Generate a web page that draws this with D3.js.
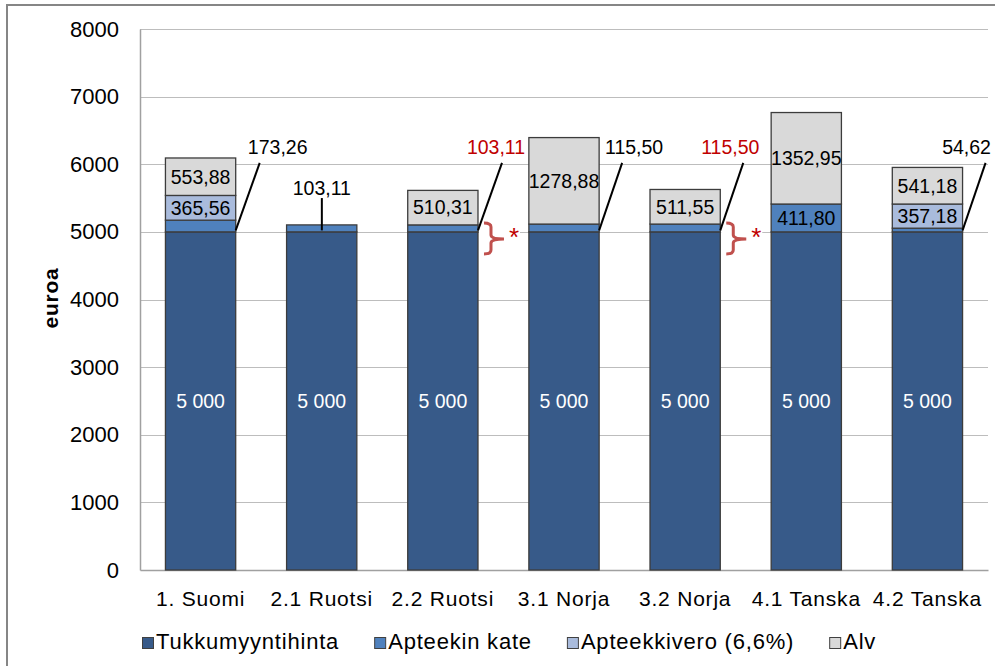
<!DOCTYPE html>
<html>
<head>
<meta charset="utf-8">
<script src="https://cdn.jsdelivr.net/npm/d3@7"></script>
<style>
  body{margin:0;background:#fff;}
  text{font-family:"Liberation Sans",Arial,sans-serif;}
</style>
</head>
<body>
<div id="chart"></div>
<script>

var categories       = ["1. Suomi","2.1 Ruotsi","2.2 Ruotsi","3.1 Norja","3.2 Norja","4.1 Tanska","4.2 Tanska"];
var tukkumyyntihinta = [5000,5000,5000,5000,5000,5000,5000];
var apteekinKate     = [173.26,103.11,103.11,115.50,115.50,411.80,54.62];
var apteekkivero     = [365.56,0,0,0,0,0,357.18];
var alv              = [553.88,0,510.31,1278.88,511.55,1352.95,541.18];
var seriesNames      = ["Tukkumyyntihinta","Apteekin kate","Apteekkivero (6,6%)","Alv"];
var seriesColors     = ["#375a89","#4f81bd","#a9bbdc","#d9d9d9"];
var yTicks           = [0,1000,2000,3000,4000,5000,6000,7000,8000];
var yLabel           = "euroa";
var starred          = [2,4];   // same margin as the row before -> red label + brace

// callout placement for the small "Apteekin kate" values (offsets from bar right edge)
var callouts = [
  {i:0, x0:0,   x1:24,  top:6020, lx:42,  ly:6255},
  {i:1, x0:-35, x1:-35, top:5500, lx:-35, ly:5650},
  {i:2, x0:0,   x1:24,  top:6020, lx:18,  ly:6255},
  {i:3, x0:0,   x1:23,  top:6020, lx:35,  ly:6255},
  {i:4, x0:0,   x1:23,  top:6020, lx:10,  ly:6255},
  {i:6, x0:0,   x1:23,  top:6020, lx:4,   ly:6255}
];


var svgWidth  = 995;
var svgHeight = 666;
var margin = {top: 29, right: 7, bottom: 96, left: 140};
var width  = svgWidth  - margin.left - margin.right;
var height = svgHeight - margin.top  - margin.bottom;

var locale = d3.formatLocale({decimal:",",thousands:" ",grouping:[3],currency:["","€"]});
function fmt(v){
  return Number.isInteger(v) ? locale.format(",.0f")(v) : locale.format(".2f")(v);
}

var rows = categories.map(function(c,i){
  return {cat:c, s0:tukkumyyntihinta[i], s1:apteekinKate[i], s2:apteekkivero[i], s3:alv[i]};
});
var keys = ["s0","s1","s2","s3"];
var stacked = d3.stack().keys(keys)(rows);

var x = d3.scaleBand()
  .domain(categories)
  .range([0,width])
  .paddingInner(0.42)
  .paddingOuter(0.21);

var y = d3.scaleLinear()
  .domain([0,8000])
  .range([height,0]);

var svg = d3.select("#chart")
  .append("svg")
    .attr("width",svgWidth)
    .attr("height",svgHeight);

//......................... Outer frame ............................
svg.append("rect")
  .attr("x",7)
  .attr("y",5)
  .attr("width",1010)
  .attr("height",720)
  .attr("fill","none")
  .attr("stroke","#868686")
  .attr("stroke-width",2);

var g = svg.append("g")
  .attr("transform","translate("+margin.left+","+margin.top+")");

//......................... Grid + axes ............................
g.append("g")
  .attr("class","grid")
  .selectAll("line")
  .data(yTicks.filter(function(d){return d > 0;}))
  .enter()
  .append("line")
  .attr("x1",0)
  .attr("x2",width)
  .attr("y1",function(d){return Math.round(y(d))+0.5;})
  .attr("y2",function(d){return Math.round(y(d))+0.5;})
  .attr("stroke","#bdbdbd")
  .attr("stroke-width",1.2);

// white box behind the braces hides the gridline there
starred.forEach(function(i){
  var right = x(categories[i]) + x.bandwidth();
  g.append("rect")
    .attr("x",right+1)
    .attr("y",y(5000)-13)
    .attr("width",41)
    .attr("height",38)
    .attr("fill","#fff");
});

var yAxis = d3.axisLeft(y).tickValues(yTicks).tickSize(0).tickPadding(21).tickFormat(d3.format("d"));
g.append("g")
  .call(yAxis)
  .call(function(a){
    a.select(".domain").attr("stroke","#a0a0a0").attr("stroke-width",1.5);
    a.selectAll("text")
      .attr("font-size","22px")
      .attr("font-family","Liberation Sans, Arial, sans-serif")
      .attr("fill","#000");
  });

var xAxis = d3.axisBottom(x).tickSize(0).tickPadding(21);
g.append("g")
  .attr("transform","translate(0,"+height+")")
  .call(xAxis)
  .call(function(a){
    a.select(".domain").attr("stroke","#a0a0a0").attr("stroke-width",1.5);
    a.selectAll("text")
      .attr("font-size","21px")
      .attr("letter-spacing","0.8px")
      .attr("font-family","Liberation Sans, Arial, sans-serif")
      .attr("fill","#000");
  });

svg.append("text")
  .attr("transform","translate(58,298) rotate(-90)")
  .attr("text-anchor","middle")
  .attr("font-size","21px")
  .attr("font-weight","bold")
  .attr("letter-spacing","0.8px")
  .text(yLabel);

//......................... Bars ............................
var layers = g.append("g")
  .selectAll("g")
  .data(stacked)
  .enter()
  .append("g")
  .attr("fill",function(d,i){return seriesColors[i];});

layers.selectAll("rect")
  .data(function(d){return d.filter(function(p){return p[1]-p[0] > 0;});})
  .enter()
  .append("rect")
  .attr("x",function(d){return x(d.data.cat);})
  .attr("y",function(d){return y(d[1]);})
  .attr("width",x.bandwidth())
  .attr("height",function(d){return y(d[0])-y(d[1]);})
  .attr("stroke","#3c3c3c")
  .attr("stroke-width",1.3);

// labels inside the segments (the small ones get callouts below)
layers.selectAll("text")
  .data(function(d,i){
    return d.filter(function(p){return p[1]-p[0] > 300;})
      .map(function(p){return {p:p, s:i, v:p.data[keys[i]]};});
  })
  .enter()
  .append("text")
  .attr("x",function(d){return x(d.p.data.cat)+x.bandwidth()/2;})
  .attr("y",function(d){return (y(d.p[0])+y(d.p[1]))/2;})
  .attr("dy","0.35em")
  .attr("text-anchor","middle")
  .attr("font-size","19.5px")
  .attr("fill",function(d){return d.s == 0 ? "#fff" : "#000";})
  .text(function(d){return fmt(d.v);});

//......................... Callouts ............................
var co = g.append("g").attr("class","callouts");
callouts.forEach(function(c){
  var right = x(categories[c.i]) + x.bandwidth();
  var red = starred.indexOf(c.i) >= 0;
  co.append("line")
    .attr("x1",right+c.x0)
    .attr("y1",y(5000)-1.5)
    .attr("x2",right+c.x1)
    .attr("y2",y(c.top))
    .attr("stroke","#000")
    .attr("stroke-width",2);
  co.append("text")
    .attr("x",right+c.lx)
    .attr("y",y(c.ly))
    .attr("dy","0.35em")
    .attr("text-anchor","middle")
    .attr("font-size","19.5px")
    .attr("fill",red ? "#c00000" : "#000")
    .text(fmt(apteekinKate[c.i]));
});

// red braces + star
starred.forEach(function(i){
  var right = x(categories[i]) + x.bandwidth();
  var x0 = right+6, xm = right+13, x1 = right+26;
  var top = y(5000)-9, mid = y(5000)+7, bot = y(5000)+22;
  var p = d3.path();
  p.moveTo(x0,top);
  p.quadraticCurveTo(xm,top,xm,top+4);
  p.lineTo(xm,mid-4);
  p.quadraticCurveTo(xm,mid,x1,mid);
  p.quadraticCurveTo(xm,mid,xm,mid+4);
  p.lineTo(xm,bot-4);
  p.quadraticCurveTo(xm,bot,x0,bot);
  g.append("path")
    .attr("d",p.toString())
    .attr("fill","none")
    .attr("stroke","#c0504d")
    .attr("stroke-width",3);
  g.append("text")
    .attr("x",right+36)
    .attr("y",y(5000)+14)
    .attr("text-anchor","middle")
    .attr("font-size","26px")
    .attr("fill","#c00000")
    .text("*");
});

//......................... Legend ............................
var legend = svg.append("g").attr("class","legend");
var lx = 142;
seriesNames.forEach(function(name,i){
  legend.append("rect")
    .attr("x",lx+0.5)
    .attr("y",637.5)
    .attr("width",11)
    .attr("height",11)
    .attr("fill",seriesColors[i])
    .attr("stroke","#404040")
    .attr("stroke-width",1);
  var t = legend.append("text")
    .attr("x",lx+14)
    .attr("y",649)
    .attr("font-size","22px")
    .attr("letter-spacing","0.8px")
    .text(name);
  lx = lx + 14 + t.node().getComputedTextLength() + 35;
});

</script>
</body>
</html>
